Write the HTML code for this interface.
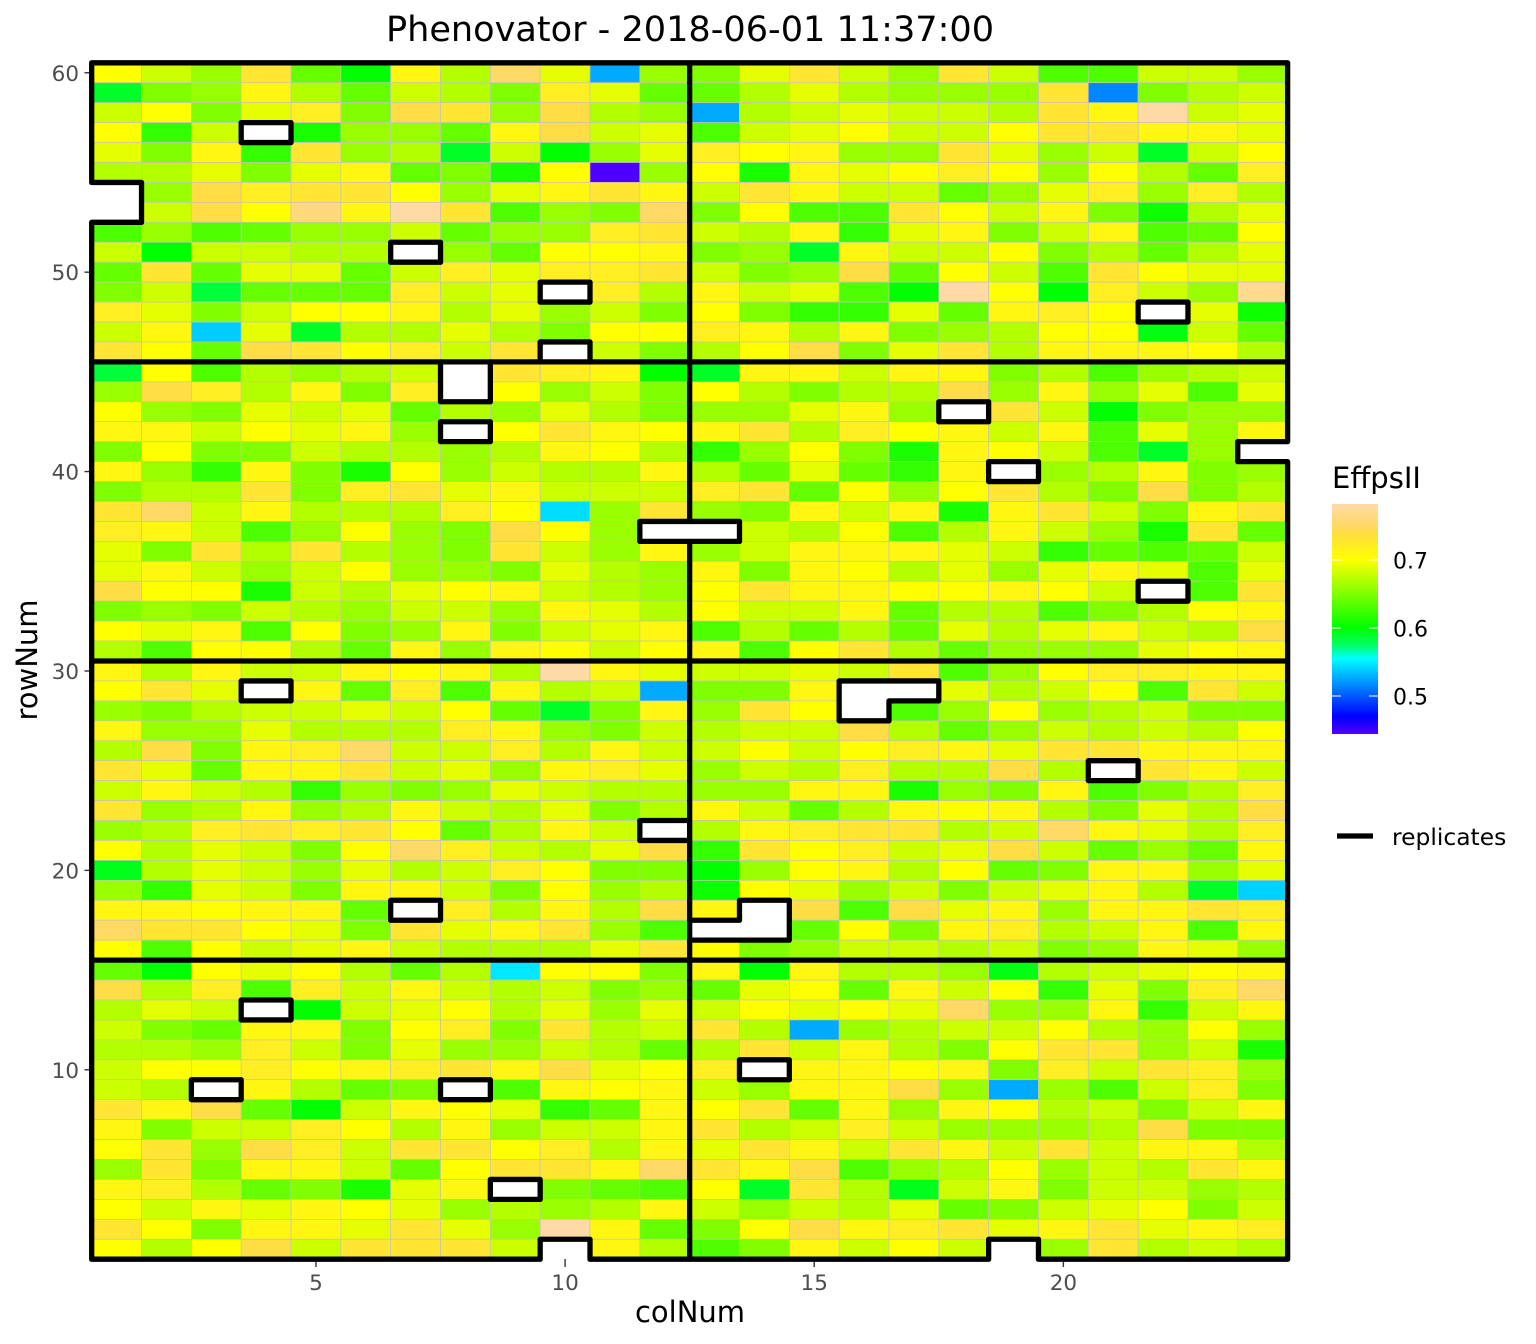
<!DOCTYPE html>
<html lang="en">
<head>
<meta charset="utf-8">
<title>Phenovator - 2018-06-01 11:37:00</title>
<style>
html,body{margin:0;padding:0;background:#fff;}
svg{display:block;}
text{font-family:"DejaVu Sans","Liberation Sans",sans-serif;}
</style>
</head>
<body>
<svg id="chart" xmlns="http://www.w3.org/2000/svg" width="1536" height="1344" viewBox="0 0 1536 1344">
  <rect x="0" y="0" width="1536" height="1344" fill="#ffffff"/>
  <defs>
    <linearGradient id="legend-gradient" x1="0" y1="0" x2="0" y2="1"></linearGradient>
  </defs>
  <g id="cells"></g>
  <g id="ticks"></g>
  <path id="replicate-lines" fill="none" stroke="#000" stroke-width="5.3" stroke-linecap="round" stroke-linejoin="round"></path>
  <text x="690" y="41" font-size="35.1" text-anchor="middle" fill="#000">Phenovator - 2018-06-01 11:37:00</text>
  <text x="690" y="1322" font-size="29" text-anchor="middle" fill="#000">colNum</text>
  <text x="37" y="660" font-size="29" text-anchor="middle" fill="#000" transform="rotate(-90 37 660)">rowNum</text>
  <text x="1332" y="488" font-size="29" fill="#000">EffpsII</text>
  <rect x="1332" y="504" width="46" height="230" fill="url(#legend-gradient)"/>
  <g id="legend-ticks"></g>
  <line x1="1337" y1="836" x2="1373" y2="836" stroke="#000" stroke-width="5.3"/>
  <text x="1392" y="845" font-size="23.4" fill="#000">replicates</text>
</svg>
<script>
const colTicks = [5, 10, 15, 20];
const rowTicks = [10, 20, 30, 40, 50, 60];
const legendTicks = [0.5, 0.6, 0.7];
const colBreaks = [12.5];
const rowBreaks = [15.5, 30.5, 45.5];
const scaleDomain = [0.444, 0.47, 0.555, 0.575, 0.60, 0.70, 0.74, 0.75, 0.782];
const scaleColors = ['#5000ff', '#0000ff', '#00ffff', '#00ff60', '#00ff00', '#ffff00', '#ffdd44', '#ffd966', '#ffdaa8'];

const row60 = [.70,.68,.66,.73,.64,.60,.71,.67,.75,.69,.527,.66,.65,.69,.73,.68,.66,.73,.68,.63,.63,.68,.68,.66];
const row59 = [.59,.65,.66,.71,.67,.64,.68,.67,.65,.72,.69,.64,.64,.67,.69,.67,.66,.66,.66,.73,.515,.65,.67,.68];
const row58 = [.68,.70,.65,.69,.72,.65,.74,.73,.66,.74,.67,.66,.527,.67,.68,.69,.68,.68,.67,.73,.71,.78,.68,.69];
const row57 = [.70,.62,.68,null,.61,.66,.66,.64,.71,.74,.68,.69,.63,.68,.69,.70,.68,.68,.70,.73,.73,.71,.71,.69];
const row56 = [.69,.65,.71,.62,.73,.66,.67,.59,.68,.60,.66,.69,.72,.70,.71,.66,.66,.73,.69,.66,.68,.59,.68,.70];
const row55 = [.67,.67,.69,.65,.69,.71,.64,.65,.61,.70,.445,.66,.70,.61,.71,.69,.70,.72,.70,.66,.70,.67,.64,.72];
const row54 = [null,.66,.74,.72,.73,.73,.70,.66,.69,.71,.73,.71,.68,.73,.71,.68,.68,.64,.66,.69,.72,.66,.72,.67];
const row53 = [null,.68,.74,.70,.76,.71,.78,.73,.63,.66,.65,.75,.65,.70,.63,.63,.73,.70,.68,.71,.65,.605,.67,.69];
const row52 = [.63,.66,.63,.64,.66,.66,.68,.64,.66,.66,.72,.73,.68,.67,.71,.62,.69,.71,.65,.68,.71,.63,.64,.70];
const row51 = [.68,.60,.68,.68,.67,.67,null,.66,.64,.70,.70,.71,.65,.66,.59,.71,.68,.68,.70,.65,.67,.64,.67,.69];
const row50 = [.64,.73,.64,.69,.69,.64,.68,.72,.69,.72,.72,.73,.68,.65,.66,.74,.64,.70,.68,.63,.73,.70,.69,.69];
const row49 = [.65,.68,.585,.64,.64,.64,.72,.68,.69,null,.72,.67,.71,.68,.69,.63,.60,.78,.70,.60,.72,.68,.66,.77];
const row48 = [.72,.69,.65,.68,.70,.70,.71,.67,.69,.66,.68,.65,.70,.65,.62,.62,.69,.64,.71,.72,.70,null,.69,.605];
const row47 = [.68,.71,.538,.69,.59,.67,.67,.69,.67,.65,.70,.70,.72,.71,.67,.71,.65,.66,.67,.70,.70,.595,.68,.64];
const row46 = [.73,.70,.64,.74,.73,.70,.72,.68,.73,null,.68,.65,.67,.70,.74,.65,.69,.73,.67,.71,.71,.71,.70,.67];
const row45 = [.585,.70,.63,.67,.66,.67,.68,null,.73,.72,.71,.60,.59,.71,.71,.68,.71,.71,.65,.67,.63,.66,.67,.68];
const row44 = [.66,.74,.72,.67,.71,.65,.72,null,.70,.66,.68,.65,.70,.67,.65,.67,.67,.74,.66,.71,.66,.69,.63,.69];
const row43 = [.70,.66,.65,.69,.68,.69,.64,.67,.66,.69,.67,.65,.66,.66,.69,.71,.66,null,.73,.68,.60,.65,.66,.66];
const row42 = [.71,.71,.68,.70,.69,.71,.66,null,.70,.73,.71,.70,.71,.73,.67,.72,.70,.71,.68,.71,.63,.69,.66,.71];
const row41 = [.65,.70,.65,.65,.68,.67,.67,.66,.67,.71,.70,.67,.62,.66,.70,.65,.61,.71,.70,.68,.63,.59,.66,null];
const row40 = [.71,.66,.62,.71,.65,.61,.70,.66,.68,.67,.67,.71,.67,.64,.69,.64,.62,.71,null,.66,.67,.71,.65,.66];
const row39 = [.65,.67,.67,.73,.65,.72,.73,.69,.71,.68,.68,.68,.72,.73,.64,.70,.66,.70,.73,.67,.65,.74,.65,.67];
const row38 = [.73,.75,.68,.71,.67,.67,.67,.72,.70,.544,.66,.73,.66,.65,.71,.68,.71,.61,.71,.73,.68,.65,.71,.73];
const row37 = [.72,.71,.68,.63,.66,.70,.66,.65,.74,.70,.66,null,null,.68,.67,.70,.63,.67,.71,.68,.66,.61,.73,.64];
const row36 = [.69,.65,.73,.67,.73,.67,.66,.65,.73,.68,.66,.71,.66,.68,.71,.71,.71,.69,.68,.62,.64,.63,.64,.68];
const row35 = [.69,.71,.68,.66,.68,.70,.66,.66,.65,.69,.67,.66,.71,.65,.71,.70,.67,.69,.66,.69,.71,.69,.63,.69];
const row34 = [.74,.70,.70,.61,.68,.67,.69,.70,.71,.68,.67,.66,.70,.73,.71,.71,.70,.70,.71,.70,.68,null,.63,.73];
const row33 = [.65,.66,.65,.68,.67,.66,.68,.68,.66,.71,.69,.67,.70,.68,.68,.71,.64,.67,.67,.63,.65,.67,.70,.71];
const row32 = [.70,.69,.71,.63,.70,.65,.66,.71,.65,.68,.69,.71,.63,.67,.64,.67,.64,.69,.67,.69,.71,.68,.67,.74];
const row31 = [.67,.63,.70,.70,.67,.64,.71,.66,.71,.70,.68,.70,.71,.63,.70,.73,.67,.64,.66,.66,.66,.69,.70,.71];
const row30 = [.71,.67,.71,.68,.68,.71,.70,.71,.67,.78,.71,.69,.68,.68,.69,.68,.73,.63,.66,.70,.72,.72,.71,.71];
const row29 = [.70,.73,.69,null,.71,.64,.72,.63,.71,.67,.68,.527,.65,.65,.71,null,null,.69,.67,.68,.70,.63,.73,.68];
const row28 = [.66,.65,.67,.68,.68,.69,.68,.70,.64,.59,.65,.71,.66,.73,.70,null,.63,.66,.70,.66,.67,.68,.65,.65];
const row27 = [.71,.66,.66,.69,.67,.67,.67,.72,.71,.66,.65,.68,.67,.68,.68,.74,.67,.64,.66,.68,.67,.68,.67,.70];
const row26 = [.67,.74,.65,.71,.72,.75,.68,.68,.72,.67,.71,.68,.68,.70,.68,.70,.72,.71,.69,.73,.73,.71,.71,.71];
const row25 = [.73,.69,.64,.71,.71,.73,.68,.69,.66,.71,.72,.69,.66,.68,.67,.72,.67,.67,.74,.67,null,.73,.71,.68];
const row24 = [.68,.71,.68,.67,.62,.66,.65,.66,.69,.68,.67,.67,.66,.66,.71,.71,.61,.66,.65,.71,.63,.65,.67,.72];
const row23 = [.73,.66,.67,.71,.66,.67,.71,.68,.67,.69,.65,.67,.71,.68,.64,.67,.71,.70,.71,.67,.65,.69,.67,.74];
const row22 = [.66,.67,.72,.73,.72,.73,.70,.64,.67,.71,.68,null,.67,.71,.72,.73,.73,.67,.68,.75,.71,.69,.67,.72];
const row21 = [.70,.67,.69,.68,.65,.70,.75,.72,.68,.67,.69,.74,.62,.73,.70,.72,.68,.69,.74,.68,.64,.66,.64,.71];
const row20 = [.593,.67,.69,.68,.66,.69,.67,.68,.72,.70,.65,.65,.60,.66,.70,.71,.67,.70,.64,.65,.71,.71,.66,.69];
const row19 = [.66,.62,.69,.68,.65,.71,.71,.68,.65,.70,.66,.67,.605,.70,.69,.66,.68,.65,.68,.69,.71,.67,.59,.54];
const row18 = [.71,.71,.70,.71,.71,.64,null,.72,.67,.71,.67,.74,.71,null,.74,.63,.74,.69,.71,.66,.71,.71,.73,.72];
const row17 = [.75,.73,.73,.70,.69,.65,.73,.69,.71,.73,.66,.63,null,null,.64,.70,.65,.71,.72,.67,.68,.71,.63,.71];
const row16 = [.70,.63,.70,.68,.69,.71,.68,.67,.67,.67,.69,.73,.70,.65,.66,.68,.68,.67,.68,.65,.66,.71,.69,.66];
const row15 = [.64,.60,.70,.69,.70,.67,.64,.67,.547,.70,.70,.65,.71,.60,.71,.67,.67,.66,.595,.67,.68,.69,.70,.71];
const row14 = [.74,.67,.72,.63,.72,.68,.71,.68,.67,.68,.65,.66,.64,.69,.70,.64,.71,.68,.70,.62,.69,.65,.72,.75];
const row13 = [.67,.69,.68,null,.60,.68,.69,.70,.67,.69,.66,.69,.68,.70,.69,.70,.69,.75,.66,.66,.71,.62,.68,.71];
const row12 = [.68,.65,.64,.71,.71,.65,.70,.72,.65,.73,.67,.68,.73,.67,.527,.66,.67,.68,.68,.70,.67,.66,.70,.66];
const row11 = [.67,.67,.66,.72,.68,.65,.69,.66,.66,.68,.67,.64,.67,.73,.68,.71,.67,.65,.70,.73,.73,.66,.68,.61];
const row10 = [.68,.70,.70,.72,.70,.71,.72,.73,.71,.74,.69,.70,.72,null,.71,.71,.70,.71,.65,.72,.68,.73,.72,.66];
const row9 = [.68,.67,null,.71,.67,.64,.65,null,.63,.71,.70,.71,.68,.66,.71,.71,.74,.66,.527,.66,.63,.68,.72,.65];
const row8 = [.73,.71,.74,.64,.60,.68,.71,.70,.69,.62,.64,.71,.70,.73,.64,.71,.66,.71,.70,.67,.68,.65,.68,.71];
const row7 = [.71,.65,.68,.68,.72,.70,.67,.71,.66,.68,.68,.71,.73,.67,.68,.72,.68,.66,.66,.66,.67,.74,.65,.65];
const row6 = [.70,.73,.66,.74,.72,.68,.73,.73,.70,.72,.67,.71,.69,.73,.71,.68,.73,.71,.68,.73,.68,.71,.71,.67];
const row5 = [.66,.73,.65,.71,.71,.68,.64,.70,.73,.73,.71,.75,.73,.71,.74,.63,.66,.67,.70,.66,.68,.67,.73,.71];
const row4 = [.71,.72,.67,.64,.65,.61,.69,.71,null,.65,.64,.63,.70,.59,.73,.67,.593,.68,.71,.65,.68,.68,.66,.67];
const row3 = [.70,.68,.71,.69,.71,.70,.69,.66,.67,.66,.67,.71,.68,.66,.68,.67,.69,.64,.65,.68,.69,.70,.65,.68];
const row2 = [.73,.70,.65,.71,.71,.69,.73,.69,.66,.78,.71,.64,.65,.70,.74,.71,.72,.73,.69,.71,.73,.69,.71,.72];
const row1 = [.70,.67,.70,.74,.68,.73,.73,.73,.68,null,.71,.67,.63,.65,.71,.68,.70,.68,null,.66,.73,.67,.68,.67];

const rowsTopDown = [row60,row59,row58,row57,row56,row55,row54,row53,row52,row51,row50,row49,row48,row47,row46,
  row45,row44,row43,row42,row41,row40,row39,row38,row37,row36,row35,row34,row33,row32,row31,
  row30,row29,row28,row27,row26,row25,row24,row23,row22,row21,row20,row19,row18,row17,row16,
  row15,row14,row13,row12,row11,row10,row9,row8,row7,row6,row5,row4,row3,row2,row1];

const NS = 'http://www.w3.org/2000/svg';
const nCols = 24, nRows = 60;
function xScale(col) { return 91.7 + (col - 0.5) * 49.83; }
function yScale(row) { return 1259.2 - (row - 0.5) * 19.94; }
function legendY(v) { return 696 - (v - 0.5) * 680; }

function hexToRgb(h) {
  return [parseInt(h.slice(1, 3), 16), parseInt(h.slice(3, 5), 16), parseInt(h.slice(5, 7), 16)];
}
function colorScale(v) {
  if (v <= scaleDomain[0]) return scaleColors[0];
  for (let i = 1; i < scaleDomain.length; i++) {
    if (v <= scaleDomain[i]) {
      const t = (v - scaleDomain[i - 1]) / (scaleDomain[i] - scaleDomain[i - 1]);
      const a = hexToRgb(scaleColors[i - 1]), b = hexToRgb(scaleColors[i]);
      return 'rgb(' + a.map(function (c, k) { return Math.round(c + (b[k] - c) * t); }).join(',') + ')';
    }
  }
  return scaleColors[scaleColors.length - 1];
}
function valueAt(col, row) {
  if (col < 1 || col > nCols || row < 1 || row > nRows) return null;
  return rowsTopDown[nRows - row][col - 1];
}

const cellGroup = document.getElementById('cells');
for (let row = nRows; row >= 1; row--) {
  for (let col = 1; col <= nCols; col++) {
    const v = valueAt(col, row);
    if (v === null) continue;
    const el = document.createElementNS(NS, 'rect');
    
    
    el.setAttribute('x', xScale(col - 0.5).toFixed(2));
    el.setAttribute('y', yScale(row + 0.5).toFixed(2));
    el.setAttribute('width', (xScale(col + 0.5) - xScale(col - 0.5)).toFixed(2));
    el.setAttribute('height', (yScale(row - 0.5) - yScale(row + 0.5)).toFixed(2));
    el.setAttribute('fill', colorScale(v));
    el.setAttribute('stroke', '#c4c4b4');
    el.setAttribute('stroke-width', '0.7');
    cellGroup.appendChild(el);
  }
}

/* Black boundaries: edge of every measured region next to missing cells or the plot edge, plus block breaks */
let d = '';
function addEdge(x1, y1, x2, y2) {
  d += 'M' + x1.toFixed(2) + ' ' + y1.toFixed(2) + 'L' + x2.toFixed(2) + ' ' + y2.toFixed(2);
}
for (let row = 1; row <= nRows; row++) {
  for (let col = 1; col <= nCols; col++) {
    if (valueAt(col, row) === null) continue;
    const L = xScale(col - 0.5), R = xScale(col + 0.5), T = yScale(row + 0.5), B = yScale(row - 0.5);
    const rightBreak = colBreaks.indexOf(col + 0.5) >= 0;
    const topBreak = rowBreaks.indexOf(row + 0.5) >= 0;
    if (valueAt(col - 1, row) === null) addEdge(L, T, L, B);
    if (valueAt(col + 1, row) === null || rightBreak) addEdge(R, T, R, B);
    if (valueAt(col, row + 1) === null || topBreak) addEdge(L, T, R, T);
    if (valueAt(col, row - 1) === null) addEdge(L, B, R, B);
  }
}
document.getElementById('replicate-lines').setAttribute('d', d);

/* Axis ticks and labels */
const tickGroup = document.getElementById('ticks');
colTicks.forEach(function (c) {
  const t = document.createElementNS(NS, 'line');
  
  
  t.setAttribute('x1', xScale(c)); t.setAttribute('x2', xScale(c));
  t.setAttribute('y1', 1259); t.setAttribute('y2', 1267);
  t.setAttribute('stroke', '#333333'); t.setAttribute('stroke-width', '1.4');
  tickGroup.appendChild(t);
  const l = document.createElementNS(NS, 'text');
  
  
  l.setAttribute('x', xScale(c)); l.setAttribute('y', 1290);
  l.setAttribute('font-size', '21.5'); l.setAttribute('fill', '#4d4d4d');
  l.setAttribute('text-anchor', 'middle');
  l.textContent = c;
  tickGroup.appendChild(l);
});
rowTicks.forEach(function (r) {
  const t = document.createElementNS(NS, 'line');
  
  
  t.setAttribute('x1', 84.5); t.setAttribute('x2', 92);
  t.setAttribute('y1', yScale(r)); t.setAttribute('y2', yScale(r));
  t.setAttribute('stroke', '#333333'); t.setAttribute('stroke-width', '1.4');
  tickGroup.appendChild(t);
  const l = document.createElementNS(NS, 'text');
  
  
  l.setAttribute('x', 79); l.setAttribute('y', yScale(r) + 8);
  l.setAttribute('font-size', '21.5'); l.setAttribute('fill', '#4d4d4d');
  l.setAttribute('text-anchor', 'end');
  l.textContent = r;
  tickGroup.appendChild(l);
});

/* Legend gradient and ticks */
const grad = document.getElementById('legend-gradient');
const legendTop = scaleDomain[scaleDomain.length - 1], legendBottom = scaleDomain[0];
for (let i = scaleDomain.length - 1; i >= 0; i--) {
  const s = document.createElementNS(NS, 'stop');
  s.setAttribute('offset', ((legendTop - scaleDomain[i]) / (legendTop - legendBottom)).toFixed(4));
  s.setAttribute('stop-color', scaleColors[i]);
  grad.appendChild(s);
}
const legendGroup = document.getElementById('legend-ticks');
legendTicks.forEach(function (v) {
  const y = legendY(v);
  [[1332, 1341], [1369, 1378]].forEach(function (seg) {
    const t = document.createElementNS(NS, 'line');
    
    
    t.setAttribute('x1', seg[0]); t.setAttribute('x2', seg[1]);
    t.setAttribute('y1', y); t.setAttribute('y2', y);
    t.setAttribute('stroke', '#ffffff'); t.setAttribute('stroke-width', '1');
    legendGroup.appendChild(t);
  });
  const l = document.createElementNS(NS, 'text');
  
  
  l.setAttribute('x', 1393); l.setAttribute('y', y + 8.5);
  l.setAttribute('font-size', '22'); l.setAttribute('fill', '#000');
  l.textContent = v.toFixed(1);
  legendGroup.appendChild(l);
});
</script>
</body>
</html>
